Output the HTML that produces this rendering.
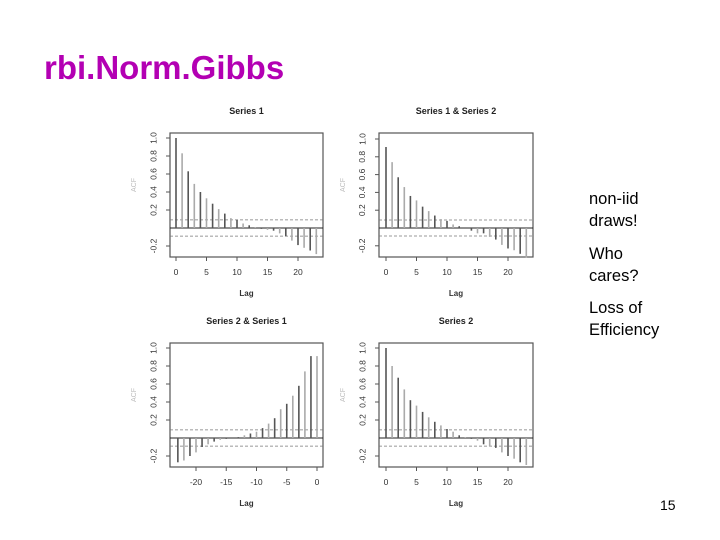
<!DOCTYPE html>
<html><head><meta charset="utf-8">
<style>
body{margin:0;width:720px;height:540px;background:#fff;position:relative;overflow:hidden;font-family:"Liberation Sans",sans-serif}
.t{position:absolute;color:#000;font-size:16.5px;line-height:22px}
</style></head><body>
<div class="t" style="left:44px;top:50px;font-size:33px;line-height:36px;font-weight:bold;color:#b300b3">rbi.Norm.Gibbs</div>
<div class="t" style="left:589px;top:188px">non-iid<br>draws!</div>
<div class="t" style="left:589px;top:243px">Who<br>cares?</div>
<div class="t" style="left:589px;top:297px">Loss of<br>Efficiency</div>
<div class="t" style="left:660px;top:494px;font-size:14px">15</div>
<svg id="c" width="720" height="540" style="position:absolute;left:0;top:0"></svg>
<script>
const lagsPos=[0,1,2,3,4,5,6,7,8,9,10,11,12,13,14,15,16,17,18,19,20,21,22,23];
const lagsNeg=[-23,-22,-21,-20,-19,-18,-17,-16,-15,-14,-13,-12,-11,-10,-9,-8,-7,-6,-5,-4,-3,-2,-1,0];
const acf1=[1.0,0.83,0.63,0.49,0.4,0.33,0.27,0.21,0.16,0.11,0.09,0.05,0.03,0.01,-0.01,-0.02,-0.03,-0.06,-0.09,-0.14,-0.19,-0.22,-0.25,-0.29];
const ccf12=[0.91,0.74,0.57,0.46,0.36,0.31,0.24,0.19,0.14,0.1,0.08,0.04,0.02,0,-0.03,-0.06,-0.06,-0.1,-0.13,-0.19,-0.23,-0.25,-0.29,-0.33];
const ccf21=[-0.27,-0.25,-0.2,-0.16,-0.1,-0.07,-0.04,-0.02,-0.01,0,0.01,0.03,0.05,0.07,0.11,0.16,0.22,0.32,0.38,0.47,0.58,0.74,0.91,0.91];
const acf2=[1.0,0.8,0.67,0.54,0.42,0.36,0.29,0.23,0.18,0.14,0.1,0.07,0.03,0.01,-0.01,-0.03,-0.07,-0.09,-0.11,-0.16,-0.2,-0.23,-0.27,-0.3];
const yTicks=[-0.2,0.2,0.4,0.6,0.8,1.0];
const yTickLabels=["-0.2","0.2","0.4","0.6","0.8","1.0"];
const xTicksPos=[0,5,10,15,20];
const xTicksNeg=[-20,-15,-10,-5,0];
const conf=0.09;
const svg=document.getElementById('c');
const NS='http://www.w3.org/2000/svg';
function mk(t,a,txt){const e=document.createElementNS(NS,t);for(const k in a)e.setAttribute(k,a[k]);if(txt!==undefined)e.textContent=txt;svg.appendChild(e);return e;}
function panel(name,title,bx0,bx1,by0,by1,yZero,yOne,xa,xb,lagA,lagB,lags,vals,ticks){
  const X=l=>xa+(l-lagA)*(xb-xa)/(lagB-lagA);
  const Y=v=>yZero-v*(yZero-yOne);
  let e;
  e=mk('text',{x:(bx0+bx1)/2,y:by0-19,'text-anchor':'middle','font-size':'9','font-weight':'bold',fill:'#222'},title);
  
  e=mk('rect',{x:bx0,y:by0,width:bx1-bx0,height:by1-by0,fill:'none',stroke:'#555','stroke-width':1.2});
  
  e=mk('text',{x:bx0-34,y:(by0+by1)/2-10,'font-size':'7',fill:'#bbb','text-anchor':'middle',transform:`rotate(-90 ${bx0-34} ${(by0+by1)/2-10})`},'ACF');
  
  mk('line',{x1:bx0,x2:bx1,y1:Y(0),y2:Y(0),stroke:'#222','stroke-width':1});
  [conf,-conf].forEach(c=>{e=mk('line',{x1:bx0,x2:bx1,y1:Y(c),y2:Y(c),stroke:'#777','stroke-width':0.8,'stroke-dasharray':'3,2'});
    });
  lags.forEach((l,i)=>{e=mk('line',{x1:X(l),x2:X(l),y1:Y(0),y2:Y(vals[i]),stroke:i%2?'#aaa':'#555','stroke-width':1.6});
    });
  yTicks.forEach((v,i)=>{mk('line',{x1:bx0-4,x2:bx0,y1:Y(v),y2:Y(v),stroke:'#555'});
    e=mk('text',{x:bx0-16,y:Y(v),'font-size':'8.5',fill:'#333','text-anchor':'middle',transform:`rotate(-90 ${bx0-16} ${Y(v)})`,'dominant-baseline':'middle'},yTickLabels[i]);
    });
  ticks.forEach(t=>{mk('line',{x1:X(t),x2:X(t),y1:by1,y2:by1+4,stroke:'#555'});
    e=mk('text',{x:X(t),y:by1+18,'font-size':'8.5',fill:'#333','text-anchor':'middle'},String(t));
    });
  e=mk('text',{x:(bx0+bx1)/2,y:by1+39,'font-size':'8','font-weight':'bold',fill:'#333','text-anchor':'middle'},'Lag');
  
}
panel('series1','Series 1',170,323,133,257,228,138,176,298,0,20,lagsPos,acf1,xTicksPos);
panel('series12','Series 1 & Series 2',379,533,133,257,228,139,386,508,0,20,lagsPos,ccf12,xTicksPos);
panel('series21','Series 2 & Series 1',170,323,343,467,438,348,196,317,-20,0,lagsNeg,ccf21,xTicksNeg);
panel('series2','Series 2',379,533,343,467,438,348,386,508,0,20,lagsPos,acf2,xTicksPos);
</script>
</body></html>
